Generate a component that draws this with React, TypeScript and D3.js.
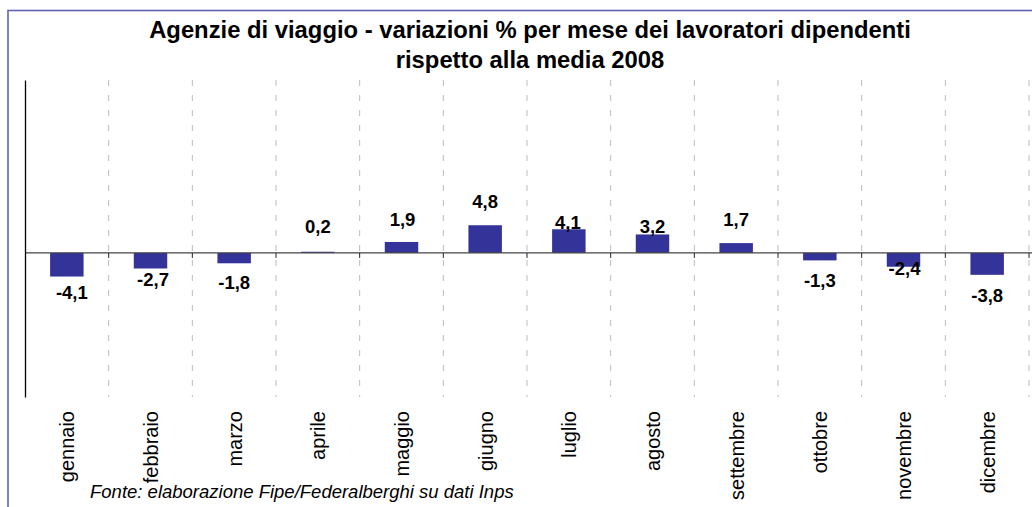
import { useEffect, useRef } from 'react';
import * as d3 from 'd3';

const months = ['gennaio', 'febbraio', 'marzo', 'aprile', 'maggio', 'giugno', 'luglio', 'agosto', 'settembre', 'ottobre', 'novembre', 'dicembre'];
const values = [-4.1, -2.7, -1.8, 0.2, 1.9, 4.8, 4.1, 3.2, 1.7, -1.3, -2.4, -3.8];
// where the value labels sit in the original: px between bar end and baseline, and sideways nudge
const labelGap = [22, 18, 26, 19, 16, 17, 0, 1.5, 17, 27, 8, 27];
const labelShift = [5, 2.5, 0, 0, 1, 0, -1, 0, 0, 0, 1, 0];
const titleLines = ['Agenzie di viaggio - variazioni % per mese dei lavoratori dipendenti', 'rispetto alla media 2008'];
const source = 'Fonte: elaborazione Fipe/Federalberghi su dati Inps';

const W = 1032;
const H = 507;
const FONT = "'Liberation Sans', Arial, sans-serif";

const App = () => {
  const svgRef = useRef(null);

  useEffect(() => {
    const svg = d3.select(svgRef.current);
    svg.selectAll('*').remove();

    const left = 25, right = 1029, top = 80, bottom = 397;

    const x = d3.scaleBand().domain(months).range([left, right]);
    const y = d3.scaleLinear().domain([-25, 30]).range([bottom, top]);
    const step = x.bandwidth();
    const y0 = y(0);

    // outer frame (only top + left visible in the picture)
    svg.append('rect')
      .attr('x', 8).attr('y', 10.5)
      .attr('width', W + 20).attr('height', H + 20)
      .attr('fill', 'white')
      .attr('stroke', '#6262b4')
      .attr('stroke-width', 1.6);

    // title
    svg.append('text')
      .attr('text-anchor', 'middle')
      .attr('font-family', FONT)
      .attr('font-weight', 'bold')
      .attr('font-size', 23.8)
      .selectAll('tspan')
      .data(titleLines)
      .enter().append('tspan')
      .attr('x', 530)
      .attr('y', (d, i) => 38 + i * 30)
      .text(d => d);

    // dashed category separators
    svg.append('g')
      .selectAll('line')
      .data(months)
      .enter().append('line')
      .attr('x1', d => x(d) + step)
      .attr('x2', d => x(d) + step)
      .attr('y1', top)
      .attr('y2', bottom)
      .attr('stroke', '#bcbcbc')
      .attr('stroke-dasharray', '6,9');

    // bars
    svg.append('g')
      .selectAll('rect')
      .data(values)
      .enter().append('rect')
      .attr('x', (d, i) => x(months[i]) + step * 0.3)
      .attr('width', step * 0.4)
      .attr('y', d => Math.min(y(d), y0))
      .attr('height', d => Math.abs(y(d) - y0))
      .attr('fill', '#333399');

    // zero line with ticks at the category edges
    svg.append('line')
      .attr('x1', left).attr('x2', W)
      .attr('y1', y0).attr('y2', y0)
      .attr('stroke', '#444')
      .attr('stroke-width', 1.2);

    svg.append('g')
      .selectAll('line')
      .data(months)
      .enter().append('line')
      .attr('x1', d => x(d) + step)
      .attr('x2', d => x(d) + step)
      .attr('y1', y0)
      .attr('y2', y0 + 5)
      .attr('stroke', '#222');

    // left value axis, no tick labels
    svg.append('g')
      .attr('transform', `translate(${left},0)`)
      .call(d3.axisLeft(y).tickValues([]).tickSizeOuter(0))
      .select('.domain')
      .attr('stroke', '#000')
      .attr('stroke-width', 1.3);

    // value labels
    svg.append('g')
      .attr('font-family', FONT)
      .attr('font-weight', 'bold')
      .attr('font-size', 18.5)
      .attr('text-anchor', 'middle')
      .selectAll('text')
      .data(values)
      .enter().append('text')
      .attr('x', (d, i) => x(months[i]) + step / 2 + labelShift[i])
      .attr('y', (d, i) => d >= 0 ? y(d) - labelGap[i] : y(d) + labelGap[i])
      .text(d => d3.format('.1f')(d).replace('.', ',').replace('−', '-'));

    // month labels, rotated
    svg.append('g')
      .attr('font-family', FONT)
      .attr('font-size', 20)
      .attr('text-anchor', 'end')
      .selectAll('text')
      .data(months)
      .enter().append('text')
      .attr('transform', d => `translate(${x(d) + step / 2 + 7.5},411) rotate(-90)`)
      .text(d => d);

    // source note
    svg.append('text')
      .attr('x', 90)
      .attr('y', 498)
      .attr('font-family', FONT)
      .attr('font-style', 'italic')
      .attr('font-size', 18.5)
      .text(source);
  }, []);

  return (
    <svg
      ref={svgRef}
      width={W}
      height={H}
      style={{ position: 'absolute', left: 0, top: 0, display: 'block', background: 'white' }}
    ></svg>
  );
};

export default App;
